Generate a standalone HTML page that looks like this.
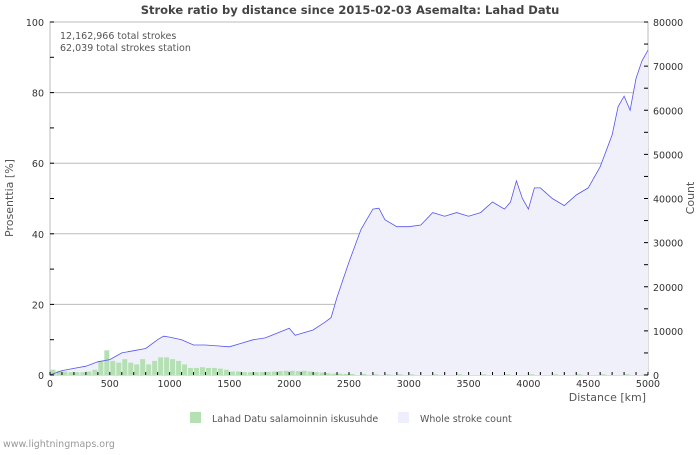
<!DOCTYPE html>
<html><head><meta charset="utf-8"><style>
body{margin:0;background:#fff;width:700px;height:450px;overflow:hidden}
svg{font-family:"DejaVu Sans","Liberation Sans",sans-serif}
</style></head><body>
<svg id="chart" width="700" height="450">
<text x="350" y="14" text-anchor="middle" font-size="11.5" font-weight="bold" fill="#444">Stroke ratio by distance since 2015-02-03 Asemalta: Lahad Datu</text>
<rect x="50" y="22" width="598" height="353" fill="#fff" stroke="#bbb"/>
<g id="grid"></g>
<path id="area" fill="#f0f0fb"/>
<g id="bars"></g>
<path id="line" fill="none" stroke="#5555ee" stroke-width="0.8"/>
<g id="axes"></g>
<text x="60" y="39" font-size="9.5" fill="#555">12,162,966 total strokes</text>
<text x="60" y="51" font-size="9.5" fill="#555">62,039 total strokes station</text>
<text x="646" y="401" text-anchor="end" font-size="11" fill="#555">Distance   [km]</text>
<text transform="translate(13,198) rotate(-90)" text-anchor="middle" font-size="11" fill="#555">Prosenttia   [%]</text>
<text transform="translate(694,198) rotate(-90)" text-anchor="middle" font-size="11" fill="#555">Count</text>
<rect x="190" y="412" width="11" height="11" fill="#b4e0b4"/>
<text x="212" y="422" font-size="9.5" fill="#555">Lahad Datu salamoinnin iskusuhde</text>
<rect x="398" y="412" width="11" height="11" fill="#eeeefc"/>
<text x="420" y="422" font-size="9.5" fill="#555">Whole stroke count</text>
<text x="3" y="447" font-size="9.5" fill="#999">www.lightningmaps.org</text>
</svg>
<script>
const barStarts=[0,50,100,150,200,250,300,350,400,450,500,550,600,650,700,750,800,850,900,950,1000,1050,1100,1150,1200,1250,1300,1350,1400,1450,1500,1550,1600,1650,1700,1750,1800,1850,1900,1950,2000,2050,2100,2150,2200,2250,2300,2350,2400,2450,2500,2600,2700,2800,2900,3000,3200,3400,3600,3800,4000,4200,4400,4600,4800,4950];
const barValues=[1.5,1.2,1,0.8,0.8,0.8,1,1.5,4,7,4,3.5,4.5,3.5,3,4.5,3,4,5,5,4.5,4,3,2,2,2.2,2,2,1.8,1.5,1,1,0.8,0.8,0.8,0.8,0.9,1,1.1,1.2,1.2,1.1,1.2,1,0.8,0.7,0.5,0.4,0.4,0.3,0.3,0.3,0.2,0.2,0.2,0.2,0.2,0.2,0.2,0.2,0.2,0.2,0.2,0.2,0.2,0.2];
const lineDist=[0,100,200,300,400,500,600,700,800,900,950,1000,1100,1200,1300,1400,1500,1600,1700,1800,1900,2000,2050,2100,2200,2300,2350,2400,2500,2600,2700,2750,2800,2900,3000,3100,3200,3300,3400,3500,3600,3700,3800,3850,3900,3950,4000,4050,4100,4200,4300,4400,4500,4600,4700,4750,4800,4850,4900,4950,5000];
const lineCount=[0,1000,1500,2000,3000,3500,5000,5500,6000,8000,8800,8600,8000,6800,6800,6600,6400,7200,8000,8400,9500,10600,9000,9400,10200,12000,13000,17600,25600,33000,37600,37800,35200,33600,33600,34000,36800,36000,36800,36000,36800,39200,37600,39200,44000,40000,37600,42400,42400,40000,38400,40800,42400,47200,54400,60800,63200,60000,67200,71200,73600];
const xTicks=[0,500,1000,1500,2000,2500,3000,3500,4000,4500,5000];
const leftTicks=[0,20,40,60,80,100];
const rightTicks=[0,10000,20000,30000,40000,50000,60000,70000,80000];
const X0=50,X1=648,Y0=375,Y1=22;
const x=d=>X0+d/5000*(X1-X0);
const yp=p=>Y0-p/100*(Y0-Y1);
const yc=c=>Y0-c/80000*(Y0-Y1);
const NS='http://www.w3.org/2000/svg';
function mk(t,a,parent){const e=document.createElementNS(NS,t);for(const k in a)e.setAttribute(k,a[k]);document.getElementById(parent).appendChild(e);return e;}
leftTicks.forEach(v=>{if(v>0&&v<100){const g=mk('line',{x1:X0,x2:X1,y1:yp(v),y2:yp(v),stroke:'#bbb'},'grid');

}});
let pts=lineDist.map((d,i)=>x(d).toFixed(1)+','+yc(lineCount[i]).toFixed(1));
document.getElementById('line').setAttribute('d','M'+pts.join('L'));
document.getElementById('area').setAttribute('d','M'+x(0)+','+Y0+'L'+pts.join('L')+'L'+x(5000)+','+Y0+'Z');
barStarts.forEach((s,i)=>{const w=x(50)-x(0);const r=mk('rect',{x:x(s)+0.5,y:yp(barValues[i]),width:w-1,height:Y0-yp(barValues[i]),fill:'#b4e0b4'},'bars');

});
for(let d=0;d<=5000;d+=100){mk('line',{x1:x(d),x2:x(d),y1:Y0,y2:Y0-3,stroke:'#000'},'axes');}
xTicks.forEach(v=>{const t=mk('text',{x:x(v),y:387,'font-size':9.5,'text-anchor':'middle',fill:'#333'},'axes');t.textContent=v;

});
for(let v=0;v<=100;v+=10){mk('line',{x1:X0,x2:X0+4,y1:yp(v),y2:yp(v),stroke:'#000'},'axes');}
leftTicks.forEach(v=>{const t=mk('text',{x:44,y:yp(v)+4,'font-size':9.5,'text-anchor':'end',fill:'#333'},'axes');t.textContent=v;

});
for(let v=0;v<=80000;v+=5000){mk('line',{x1:X1-4,x2:X1,y1:yc(v),y2:yc(v),stroke:'#000'},'axes');}
rightTicks.forEach(v=>{const t=mk('text',{x:653,y:yc(v)+4,'font-size':9.5,fill:'#333'},'axes');t.textContent=v;

});
</script>
</body></html>
